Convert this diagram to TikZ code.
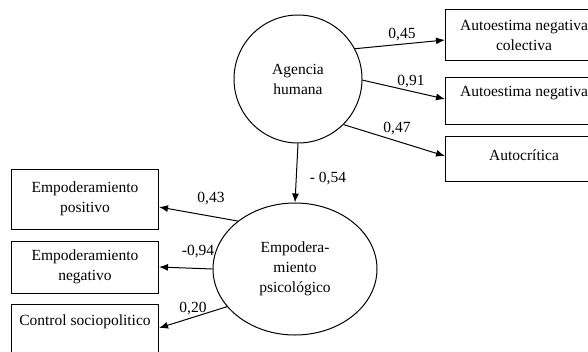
\documentclass[tikz,border=0pt]{standalone}
\usepackage{fontspec}
\setmainfont{Liberation Serif}
\usetikzlibrary{shapes.geometric, arrows.meta}

\begin{document}
\begin{tikzpicture}[x=1pt, y=-1pt, line width=1pt,
  every node/.style={font=\fontsize{15.5}{20}\selectfont},
  var/.style={draw, rectangle, align=center, inner sep=0pt},
  lat/.style={draw, align=center, inner sep=0pt},
  load/.style={-{Latex[length=9pt, width=7pt]}}]
\clip (0,0) rectangle (588,351);
\node[lat, circle, minimum size=128pt] (ah) at (298,79) {Agencia\\humana};
\node[lat, ellipse, minimum width=164pt, minimum height=132pt] (ep) at (295,269) {Empodera-\\miento\\psicológico};
\node[var, minimum width=157pt, minimum height=51pt] (ae1) at (524,35) {Autoestima negativa\\colectiva};
\node[var, minimum width=157pt, minimum height=47pt] (ae2) at (524,101) {Autoestima negativa\\ \mbox{}};
\node[var, minimum width=157pt, minimum height=45pt, text depth=7pt] (ac) at (524,158.5) {Autocrítica};
\node[var, minimum width=147pt, minimum height=60pt] (pos) at (85,199) {Empoderamiento\\positivo};
\node[var, minimum width=147pt, minimum height=52pt] (neg) at (85,267) {Empoderamiento\\negativo};
\node[var, minimum width=147pt, minimum height=52pt] (cs) at (85,330) {Control sociopolitico\\ \mbox{}};
\node (l1) at (402,34.5) {0,45};
\node (l2) at (411,81.5) {0,91};
\node (l3) at (397,128.5) {0,47};
\node (l4) at (328,178.5) {- 0,54};
\node (l5) at (211,198.5) {0,43};
\node (l6) at (198,251.5) {-0,94};
\node (l7) at (193,308.5) {0,20};
\draw[load] (ah.28) -- ([yshift=-5pt]ae1.west);
\draw[load] (ah.-1) -- ([yshift=2pt]ae2.west);
\draw[load] (ah.-45) -- ([yshift=2.5pt]ac.west);
\draw[load] (ah.south) -- (ep.north);
\draw[load] (ep.140) -- ([yshift=-8pt]pos.east);
\draw[load] (ep.west) -- (neg.east);
\draw[load] (ep.209) -- ([yshift=2pt]cs.east);
\end{tikzpicture}
\end{document}
